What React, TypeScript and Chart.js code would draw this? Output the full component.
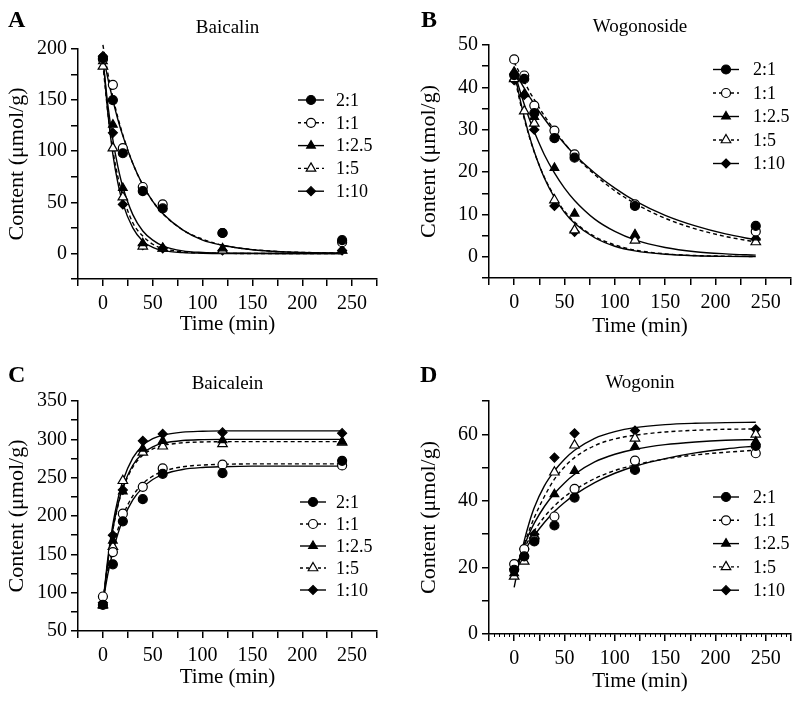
import React, { useEffect, useRef } from 'react';
import { Chart, registerables } from 'chart.js';
Chart.register(...registerables);

// ---------- data ----------
const TIMES = [0, 10, 20, 40, 60, 120, 240];
const CURVE_TIMES = [0, 5, 10, 15, 20, 30, 40, 50, 60, 80, 100, 120, 150, 180, 210, 240];
const RATIO_LABELS = ['2:1', '1:1', '1:2.5', '1:5', '1:10'];

// A: Baicalin measured points
const baicalin21 = [191, 150, 98, 61, 44, 20, 13];
const baicalin11 = [190, 165, 103, 65, 48, 20, 11];
const baicalin125 = [188, 126, 64, 10, 5, 5, 3];
const baicalin15 = [183, 103, 55, 7, 5, 3, 3];
const baicalin110 = [193, 118, 48, 8, 5, 3, 3];
// A: fitted curves read at CURVE_TIMES
const baicalin21Fit = [195, 171, 150, 131, 115, 88, 67, 51, 39, 23, 13, 8, 3.6, 1.6, 0.7, 0.3];
const baicalin11Fit = [204, 176, 153, 133, 116, 88, 67, 51, 39, 23, 14, 8, 3.8, 1.7, 0.8, 0.4];
const baicalin125Fit = [190, 145, 111, 85, 65, 38, 22, 13, 7.5, 2.5, 0.9, 0.3, 0.1, 0, 0, 0];
const baicalin15Fit = [185, 137, 101, 75, 56, 30, 17, 9, 5, 1.5, 0.5, 0.1, 0, 0, 0, 0];
const baicalin110Fit = [193, 137, 97, 69, 49, 25, 12, 6, 3, 0.8, 0.2, 0, 0, 0, 0, 0];

// B: Wogonoside
const wogonoside21 = [42.9, 42, 33.9, 28, 23.4, 12, 7.3];
const wogonoside11 = [46.6, 42.8, 35.7, 29.8, 24.2, 12.4, 6];
const wogonoside125 = [43.7, 38.4, 33, 21, 10.2, 5.3, 4.6];
const wogonoside15 = [42, 34.4, 31.5, 13.4, 6.3, 3.9, 3.5];
const wogonoside110 = [41.7, 38.2, 30, 12, 5.9, 4.5, 4.2];
const wogonoside21Fit = [44, 41.9, 39.8, 37.9, 36.0, 32.6, 29.5, 26.7, 24.1, 19.8, 16.2, 13.2, 9.8, 7.3, 5.4, 4.0];
const wogonoside11Fit = [46, 43.6, 41.3, 39.1, 37.1, 33.3, 29.9, 26.8, 24.0, 19.4, 15.6, 12.6, 9.1, 6.6, 4.8, 3.5];
const wogonoside125Fit = [44, 39.8, 36.0, 32.6, 29.5, 24.1, 19.8, 16.2, 13.3, 8.9, 6.0, 4.0, 2.2, 1.2, 0.7, 0.4];
const wogonoside15Fit = [43, 37.4, 32.6, 28.4, 24.7, 18.8, 14.3, 10.8, 8.2, 4.8, 2.8, 1.6, 0.7, 0.3, 0.15, 0.07];
const wogonoside110Fit = [44, 38.1, 33.0, 28.6, 24.8, 18.6, 14.0, 10.5, 7.9, 4.5, 2.5, 1.4, 0.6, 0.25, 0.1, 0.05];

// C: Baicalein
const baicalein21 = [84, 137, 193, 222, 255, 256, 272];
const baicalein11 = [95, 153, 203, 238, 262, 267, 266];
const baicalein125 = [83, 168, 232, 288, 298, 299, 297];
const baicalein15 = [84, 160, 246, 283, 291, 294, 296];
const baicalein110 = [87, 175, 234, 298, 307, 309, 308];
const baicalein21Fit = [88, 124.6, 153.7, 176.7, 195, 221, 237, 247.6, 254, 260.7, 263.3, 264.3, 265, 265, 265, 265];
const baicalein11Fit = [92, 129.5, 159, 182.3, 200.6, 226.3, 242.2, 252, 258.1, 264.2, 266.5, 267.4, 268, 268, 268, 268];
const baicalein125Fit = [83, 141, 183.2, 214.3, 237.2, 266.2, 281.8, 290.2, 294.7, 298.5, 299.6, 300, 300, 300, 300, 300];
const baicalein15Fit = [84, 140.9, 182.4, 212.9, 235.4, 263.8, 279.2, 287.4, 291.8, 295.5, 296.6, 296.9, 297, 297, 297, 297];
const baicalein110Fit = [85, 145.3, 189.4, 221.7, 245.7, 275.7, 292.1, 300.8, 305.5, 309.4, 310.5, 311, 311, 311, 311, 311];

// D: Wogonin
const wogonin21 = [19.3, 23.3, 27.8, 32.6, 41, 49.3, 56.5];
const wogonin11 = [21, 25.5, 28.3, 35.3, 43.6, 52.1, 54.3];
const wogonin125 = [18.3, 24.3, 29.3, 42, 49, 56.3, 57.8];
const wogonin15 = [17.3, 21.8, 29.6, 48.6, 56.7, 58.8, 60];
const wogonin110 = [19.5, 25.5, 30, 53, 60.3, 61.1, 61.5];
const wogonin21Fit = [19, 22, 24.8, 27.3, 29.6, 33.5, 36.8, 39.5, 41.8, 45.5, 48.3, 50.4, 52.7, 54.4, 55.6, 56.5];
const wogonin11Fit = [19.5, 22.8, 25.8, 28.5, 31, 35.2, 38.5, 41.2, 43.3, 46.7, 49.1, 50.8, 52.6, 53.8, 54.6, 55.2];
const wogonin125Fit = [18, 22.5, 26.5, 30.2, 33.3, 38.3, 42.2, 45.4, 48, 51.7, 54, 55.5, 56.9, 57.7, 58.2, 58.4];
const wogonin15Fit = [17, 22.3, 27, 31.2, 35, 41.3, 46.5, 50.2, 53, 56.6, 58.6, 59.7, 60.7, 61.2, 61.5, 61.6];
const wogonin110Fit = [14, 21.5, 28, 33.5, 38, 44.5, 49, 52.5, 55.2, 58.8, 60.8, 62, 62.9, 63.3, 63.5, 63.6];

// ---------- styling ----------
const FONT = '"Liberation Serif", "Times New Roman", serif';

type Shape = 'circle' | 'triangle' | 'diamond';
interface SeriesStyle { shape: Shape; filled: boolean; dashed: boolean; r: number; }
const STYLES: SeriesStyle[] = [
  { shape: 'circle', filled: true, dashed: false, r: 4.5 },
  { shape: 'circle', filled: false, dashed: true, r: 4.5 },
  { shape: 'triangle', filled: true, dashed: false, r: 5 },
  { shape: 'triangle', filled: false, dashed: true, r: 5.5 },
  { shape: 'diamond', filled: true, dashed: false, r: 4.5 },
];

interface PanelSpec {
  letter: string; title: string;
  left: number; top: number; width: number; height: number;
  yMin: number; yMax: number; yStep: number; yLabelStep: number;
  yWidth: number; xHeight: number; padTop: number; padRight: number;
  yTitlePad: number; xTitlePad: number;
  letterX: number; letterY: number; titleY: number;
  legLineX0: number; legLineX1: number; legTextX: number; legY0: number; legGap: number;
  minorX: boolean;
  points: number[][]; fits: number[][];
}

const PANELS: PanelSpec[] = [
  {
    letter: 'A', title: 'Baicalin', left: 0, top: 0, width: 400, height: 340,
    yMin: -25, yMax: 200, yStep: 25, yLabelStep: 50,
    yWidth: 78, xHeight: 61, padTop: 49, padRight: 23, yTitlePad: 4, xTitlePad: 3,
    letterX: 8, letterY: 27, titleY: 33,
    legLineX0: 298, legLineX1: 324, legTextX: 336, legY0: 100, legGap: 22.8, minorX: false,
    points: [baicalin21, baicalin11, baicalin125, baicalin15, baicalin110],
    fits: [baicalin21Fit, baicalin11Fit, baicalin125Fit, baicalin15Fit, baicalin110Fit],
  },
  {
    letter: 'B', title: 'Wogonoside', left: 400, top: 0, width: 400, height: 340,
    yMin: -5, yMax: 50, yStep: 5, yLabelStep: 10,
    yWidth: 89, xHeight: 62, padTop: 45, padRight: 9, yTitlePad: 16, xTitlePad: 1,
    letterX: 21, letterY: 27, titleY: 32,
    legLineX0: 313, legLineX1: 339, legTextX: 353, legY0: 69.5, legGap: 23.5, minorX: false,
    points: [wogonoside21, wogonoside11, wogonoside125, wogonoside15, wogonoside110],
    fits: [wogonoside21Fit, wogonoside11Fit, wogonoside125Fit, wogonoside15Fit, wogonoside110Fit],
  },
  {
    letter: 'C', title: 'Baicalein', left: 0, top: 340, width: 400, height: 363,
    yMin: 50, yMax: 350, yStep: 25, yLabelStep: 50,
    yWidth: 78, xHeight: 72, padTop: 61, padRight: 23, yTitlePad: 4, xTitlePad: 13,
    letterX: 8, letterY: 42, titleY: 49,
    legLineX0: 300, legLineX1: 326, legTextX: 336, legY0: 162, legGap: 22, minorX: false,
    points: [baicalein21, baicalein11, baicalein125, baicalein15, baicalein110],
    fits: [baicalein21Fit, baicalein11Fit, baicalein125Fit, baicalein15Fit, baicalein110Fit],
  },
  {
    letter: 'D', title: 'Wogonin', left: 400, top: 340, width: 400, height: 363,
    yMin: 0, yMax: 70, yStep: 10, yLabelStep: 20,
    yWidth: 89, xHeight: 69, padTop: 61, padRight: 9, yTitlePad: 16, xTitlePad: 9,
    letterX: 20, letterY: 42, titleY: 48,
    legLineX0: 313, legLineX1: 339, legTextX: 353, legY0: 157, legGap: 23.3, minorX: true,
    points: [wogonin21, wogonin11, wogonin125, wogonin15, wogonin110],
    fits: [wogonin21Fit, wogonin11Fit, wogonin125Fit, wogonin15Fit, wogonin110Fit],
  },
];

function drawMarker(ctx: CanvasRenderingContext2D, s: SeriesStyle, x: number, y: number) {
  ctx.beginPath();
  const r = s.r;
  if (s.shape === 'circle') {
    ctx.arc(x, y, r, 0, Math.PI * 2);
  } else if (s.shape === 'triangle') {
    for (let k = 0; k < 3; k++) {
      const a = (k * 2 * Math.PI) / 3;
      const px = x + Math.sin(a) * r;
      const py = y - Math.cos(a) * r;
      if (k === 0) ctx.moveTo(px, py); else ctx.lineTo(px, py);
    }
  } else {
    ctx.moveTo(x, y - r); ctx.lineTo(x + r, y); ctx.lineTo(x, y + r); ctx.lineTo(x - r, y);
  }
  ctx.closePath();
  ctx.fillStyle = s.filled ? '#000' : '#fff';
  ctx.fill();
  ctx.lineWidth = 1.2;
  ctx.strokeStyle = '#000';
  ctx.setLineDash([]);
  ctx.stroke();
}

const decoPlugin = {
  id: 'panelDeco',
  afterDraw(chart: any) {
    const spec: PanelSpec = chart.config._config.panelSpec;
    if (!spec) return;
    const ctx: CanvasRenderingContext2D = chart.ctx;
    const ca = chart.chartArea;
    ctx.save();
    ctx.fillStyle = '#000';
    ctx.textAlign = 'left';
    ctx.textBaseline = 'alphabetic';
    ctx.font = `bold 24px ${FONT}`;
    ctx.fillText(spec.letter, spec.letterX, spec.letterY);
    ctx.font = `19px ${FONT}`;
    ctx.textAlign = 'center';
    ctx.fillText(spec.title, (ca.left + ca.right) / 2, spec.titleY);

    // legend
    RATIO_LABELS.forEach((lab, i) => {
      const s = STYLES[i];
      const y = spec.legY0 + i * spec.legGap;
      ctx.beginPath();
      ctx.setLineDash(s.dashed ? [3, 3] : []);
      ctx.lineWidth = 1.4;
      ctx.strokeStyle = '#000';
      ctx.moveTo(spec.legLineX0, y);
      ctx.lineTo(spec.legLineX1, y);
      ctx.stroke();
      drawMarker(ctx, s, (spec.legLineX0 + spec.legLineX1) / 2, y);
      ctx.fillStyle = '#000';
      ctx.font = `18px ${FONT}`;
      ctx.textAlign = 'left';
      ctx.textBaseline = 'middle';
      ctx.fillText(lab, spec.legTextX, y + 1);
    });

    if (spec.minorX) {
      const xs = chart.scales.x;
      ctx.setLineDash([]);
      ctx.strokeStyle = '#000';
      ctx.lineWidth = 1;
      for (let v = -25; v <= 275; v += 5) {
        if (v % 25 === 0) continue;
        const px = Math.round(xs.getPixelForValue(v)) + 0.5;
        ctx.beginPath();
        ctx.moveTo(px, ca.bottom);
        ctx.lineTo(px, ca.bottom + 3);
        ctx.stroke();
      }
    }
    ctx.restore();
  },
};

function buildConfig(spec: PanelSpec): any {
  const datasets: any[] = [];
  spec.points.forEach((vals, i) => {
    const s = STYLES[i];
    datasets.push({
      label: RATIO_LABELS[i],
      data: TIMES.map((t, j) => ({ x: t, y: vals[j] })),
      showLine: false,
      pointStyle: s.shape === 'diamond' ? 'rectRot' : s.shape,
      pointRadius: s.r,
      pointBackgroundColor: s.filled ? '#000' : '#fff',
      pointBorderColor: '#000',
      pointBorderWidth: 1.2,
      order: 0,
      clip: false,
    });
  });
  spec.fits.forEach((vals, i) => {
    const s = STYLES[i];
    datasets.push({
      label: RATIO_LABELS[i] + ' fit',
      data: CURVE_TIMES.map((t, j) => ({ x: t, y: vals[j] })),
      showLine: true,
      pointRadius: 0,
      borderColor: '#000',
      borderWidth: 1.4,
      borderDash: s.dashed ? [4, 3] : [],
      cubicInterpolationMode: 'monotone',
      fill: false,
      order: 1,
      clip: false,
    });
  });

  const axisCommon = {
    border: { display: true, color: '#000', width: 1.5 },
    grid: { display: true, drawOnChartArea: false, drawTicks: true, tickLength: 7, color: '#000', lineWidth: 1.5 },
  };

  return {
    type: 'scatter',
    data: { datasets },
    panelSpec: spec,
    options: {
      responsive: false,
      animation: false,
      devicePixelRatio: 1,
      layout: { padding: { left: 0, top: spec.padTop, right: spec.padRight, bottom: 0 } },
      plugins: { legend: { display: false }, tooltip: { enabled: false }, title: { display: false } },
      scales: {
        x: {
          type: 'linear', position: 'bottom', min: -25, max: 275,
          ...axisCommon,
          afterFit: (sc: any) => { sc.height = spec.xHeight; },
          ticks: {
            stepSize: 25, autoSkip: false, maxRotation: 0, color: '#000', padding: 6,
            font: { family: FONT, size: 20 },
            callback: (v: number) => (v % 50 === 0 && v >= 0 && v <= 250 ? String(v) : ''),
          },
          title: {
            display: true, text: 'Time (min)', color: '#000',
            font: { family: FONT, size: 21 }, padding: { top: 0, bottom: spec.xTitlePad },
          },
        },
        y: {
          type: 'linear', position: 'left', min: spec.yMin, max: spec.yMax,
          ...axisCommon,
          afterFit: (sc: any) => { sc.width = spec.yWidth; },
          ticks: {
            stepSize: spec.yStep, autoSkip: false, color: '#000', padding: 4,
            font: { family: FONT, size: 20 },
            callback: (v: number) => (v % spec.yLabelStep === 0 && v >= 0 ? String(v) : ''),
          },
          title: {
            display: true, text: 'Content (μmol/g)', color: '#000',
            font: { family: FONT, size: 22 }, padding: { top: spec.yTitlePad, bottom: 0 },
          },
        },
      },
    },
    plugins: [decoPlugin],
  };
}

function Panel({ spec }: { spec: PanelSpec }) {
  const ref = useRef<HTMLCanvasElement | null>(null);
  useEffect(() => {
    if (!ref.current) return;
    const chart = new Chart(ref.current, buildConfig(spec));
    return () => chart.destroy();
  }, [spec]);
  return (
    <canvas
      ref={ref}
      width={spec.width}
      height={spec.height}
      style={{ position: 'absolute', left: spec.left, top: spec.top, width: spec.width, height: spec.height }}
    />
  );
}

export default function App() {
  return (
    <div style={{ position: 'absolute', left: 0, top: 0, width: 800, height: 703, background: '#fff' }}>
      {PANELS.map((p) => (
        <Panel key={p.letter} spec={p} />
      ))}
    </div>
  );
}
